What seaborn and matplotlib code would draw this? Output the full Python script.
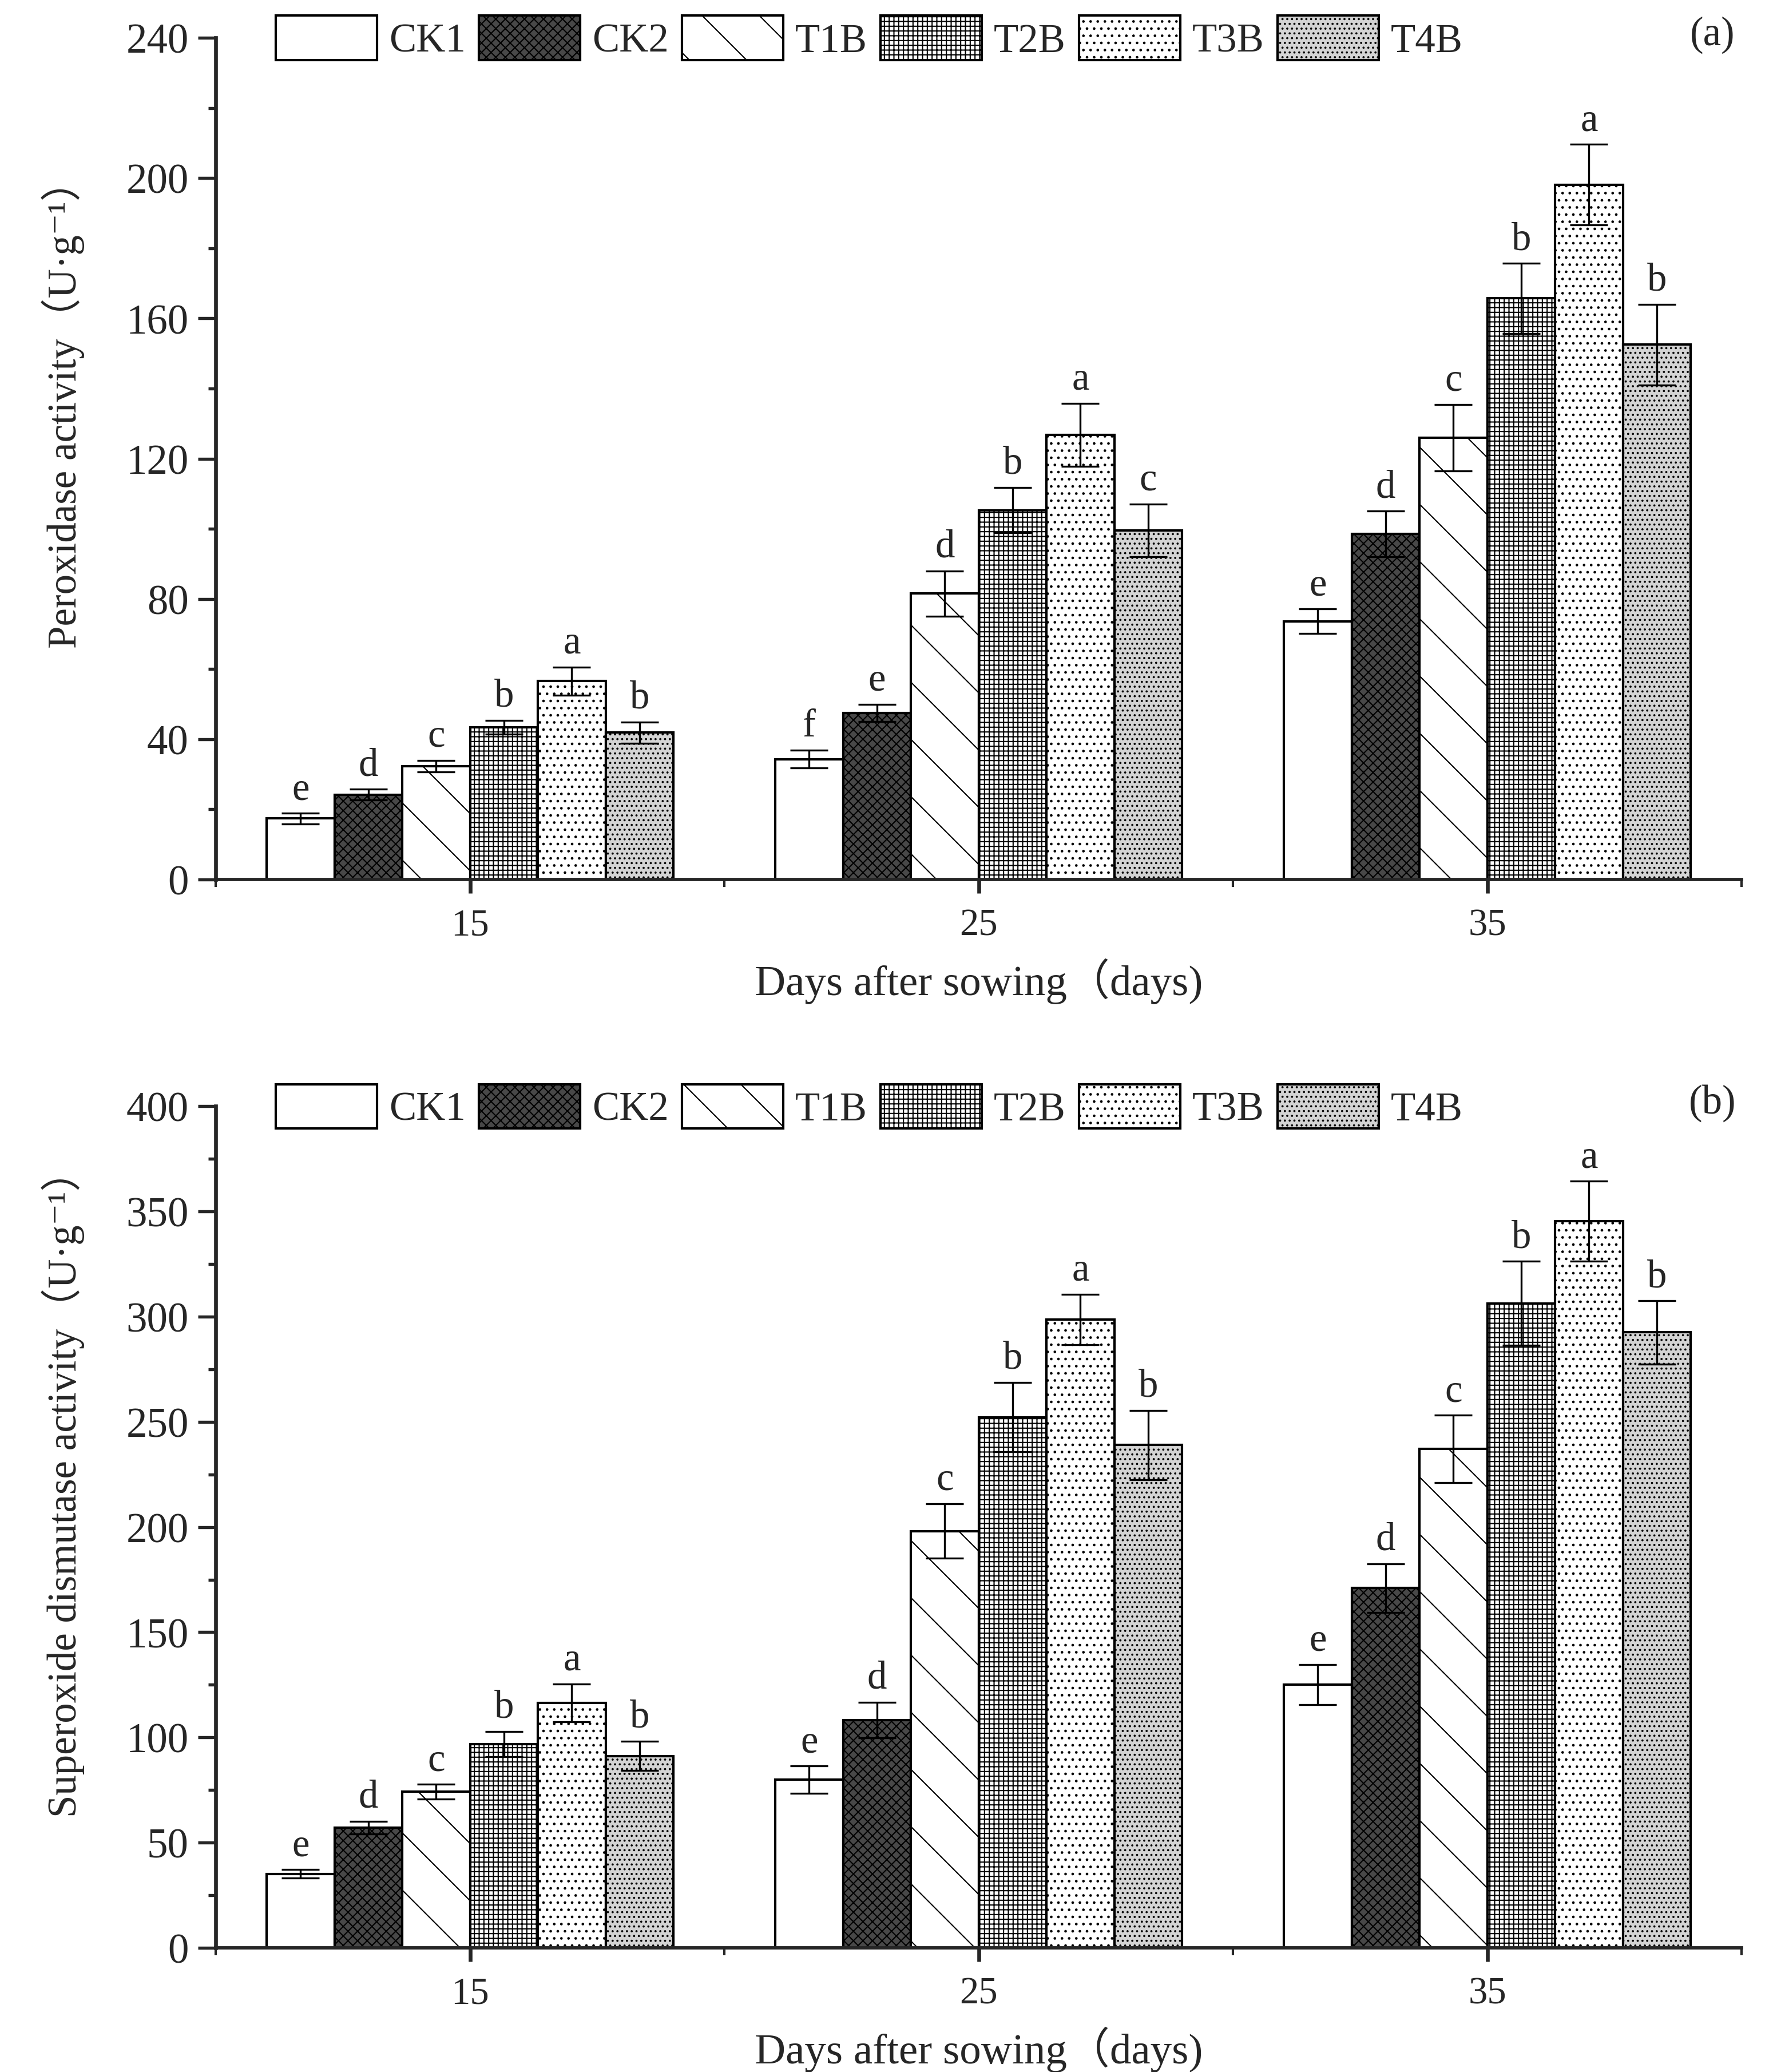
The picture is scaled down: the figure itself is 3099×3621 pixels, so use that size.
import matplotlib
matplotlib.use('Agg')
import matplotlib.pyplot as plt
import matplotlib.patches as mpatches
from matplotlib.ticker import MultipleLocator, FixedLocator
import pandas as pd
import seaborn as sns

days = ['15', '25', '35']
treatments = ['CK1', 'CK2', 'T1B', 'T2B', 'T3B', 'T4B']

# (a) peroxidase activity, one list per sampling day (CK1..T4B)
pod_15 = [17.4, 24.2, 32.3, 43.4, 56.6, 41.9]
pod_25 = [34.3, 47.5, 81.5, 105.3, 126.8, 99.6]
pod_35 = [73.6, 98.5, 126.0, 165.7, 198.1, 152.5]
pod_err_15 = [1.5, 1.5, 1.7, 2.0, 4.0, 3.0]
pod_err_25 = [2.5, 2.5, 6.5, 6.5, 9.0, 7.5]
pod_err_35 = [3.5, 6.5, 9.5, 10.0, 11.5, 11.5]
pod_sig_15 = ['e', 'd', 'c', 'b', 'a', 'b']
pod_sig_25 = ['f', 'e', 'd', 'b', 'a', 'c']
pod_sig_35 = ['e', 'd', 'c', 'b', 'a', 'b']

# (b) superoxide dismutase activity
sod_15 = [35.2, 57.2, 74.2, 96.9, 116.4, 91.2]
sod_25 = [79.9, 108.2, 198.1, 252.2, 298.7, 239.0]
sod_35 = [125.2, 171.0, 237.1, 306.3, 345.3, 292.5]
sod_err_15 = [2.0, 3.0, 3.5, 6.0, 9.0, 7.0]
sod_err_25 = [6.5, 8.5, 13.0, 16.5, 12.0, 16.5]
sod_err_35 = [9.5, 11.5, 16.0, 20.0, 19.0, 15.0]
sod_sig_15 = ['e', 'd', 'c', 'b', 'a', 'b']
sod_sig_25 = ['e', 'd', 'c', 'b', 'a', 'b']
sod_sig_35 = ['e', 'd', 'c', 'b', 'a', 'b']

faces = ['white', '#484848', 'white', 'white', 'white', '#d4d4d4']
hatches = ['', 'xxxxxx', '\\', '++++++', '....', '......']

sns.set_theme(style='ticks')
plt.rcParams['font.family'] = ['Liberation Serif', 'DejaVu Serif', 'Noto Sans CJK SC']
plt.rcParams['hatch.linewidth'] = 0.5


def long_df(means, errs, sigs):
    rows = []
    for d, m, e, s in zip(days, means, errs, sigs):
        for t, v, ev, sv in zip(treatments, m, e, s):
            rows.append({'Day': d, 'Treatment': t, 'value': v, 'err': ev, 'sig': sv})
    return pd.DataFrame(rows)


def panel(ax, df, ymax, major, ylabel, ylab_y, tag):
    sns.barplot(data=df, x='Day', y='value', hue='Treatment', order=days,
                hue_order=treatments, palette=faces, errorbar=None,
                width=0.8, edgecolor='black', linewidth=1.0, saturation=1,
                legend=False, ax=ax)
    bar_conts = list(ax.containers)
    for i, cont in enumerate(bar_conts):
        sub = df[df['Treatment'] == treatments[i]].set_index('Day').loc[days]
        for bar, (_, r) in zip(cont.patches, sub.iterrows()):
            bar.set_hatch(hatches[i])
            bar.set_facecolor(faces[i])
            cx = bar.get_x() + bar.get_width() / 2
            ax.errorbar(cx, r['value'], yerr=r['err'], color='black',
                        elinewidth=0.8, capsize=8, capthick=0.8, zorder=5)
            ax.annotate(r['sig'], (cx, r['value'] + r['err']),
                        xytext=(0, 6), textcoords='offset points',
                        ha='center', va='baseline', fontsize=16.5)

    ax.set_xlim(-0.5, 2.5)
    ax.set_ylim(0, ymax)
    ax.yaxis.set_major_locator(MultipleLocator(major))
    ax.yaxis.set_minor_locator(MultipleLocator(major / 2))
    ax.xaxis.set_minor_locator(FixedLocator([-0.5, 0.5, 1.5, 2.5]))
    ax.tick_params(axis='y', which='major', labelsize=17.5, length=7.4,
                   width=1.3, direction='out', pad=4)
    ax.tick_params(axis='y', which='minor', length=3.1, width=1.3)
    ax.tick_params(axis='x', which='major', labelsize=16, length=5.8,
                   width=1.6, pad=6)
    ax.tick_params(axis='x', which='minor', length=3.2, width=1.0, bottom=True)
    sns.despine(ax=ax)
    ax.spines['left'].set_linewidth(1.6)
    ax.spines['bottom'].set_linewidth(1.4)
    ax.set_xlabel('Days after sowing（days)', fontsize=18)
    ax.xaxis.set_label_coords(0.5, -0.093)
    ax.set_ylabel(ylabel, fontsize=17)
    ax.yaxis.set_label_coords(-0.086, ylab_y)

    handles = [mpatches.Patch(facecolor=faces[i], edgecolor='black',
                              hatch=hatches[i], linewidth=1.0, label=t)
               for i, t in enumerate(treatments)]
    ax.legend(handles=handles, loc='center left', bbox_to_anchor=(0.0394, 1.0),
              ncol=6, frameon=False, fontsize=17, handlelength=2.5,
              handleheight=1.3, handletextpad=0.3, columnspacing=0.32,
              borderaxespad=0, borderpad=0)
    ax.text(0.981, 1.004, tag, transform=ax.transAxes, ha='center',
            va='center', fontsize=17)


fig = plt.figure(figsize=(10.33, 12.073))
ax1 = fig.add_axes([0.1217, 0.5754, 0.8606, 0.4061])
ax2 = fig.add_axes([0.1217, 0.0599, 0.8606, 0.4061])

df_a = long_df([pod_15, pod_25, pod_35], [pod_err_15, pod_err_25, pod_err_35],
               [pod_sig_15, pod_sig_25, pod_sig_35])
df_b = long_df([sod_15, sod_25, sod_35], [sod_err_15, sod_err_25, sod_err_35],
               [sod_sig_15, sod_sig_25, sod_sig_35])

panel(ax1, df_a, 240, 40, 'Peroxidase activity（U·g⁻¹）', 0.565, '(a)')
panel(ax2, df_b, 400, 50, 'Superoxide dismutase activity（U·g⁻¹）', 0.552, '(b)')

fig.savefig('out.png', dpi=300)
